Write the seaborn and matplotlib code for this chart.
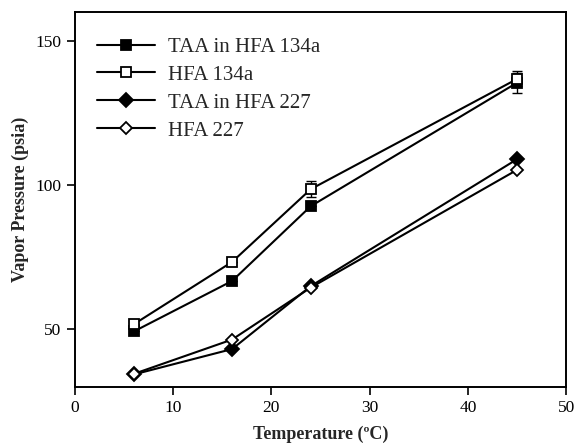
import matplotlib
matplotlib.use("Agg")
import matplotlib.pyplot as plt
import seaborn as sns
import pandas as pd

temps = [6, 16, 24, 45]
taa_134a = [49.3, 66.8, 92.7, 135.5]
hfa_134a = [51.8, 73.4, 98.6, 136.8]
taa_227 = [34.4, 43.2, 65.0, 109.0]
hfa_227 = [34.6, 46.5, 64.5, 105.3]
err_taa_134a = [0, 0, 0, 3.5]
err_hfa_134a = [0, 0, 2.8, 2.6]

labels = ["TAA in HFA 134a", "HFA 134a", "TAA in HFA 227", "HFA 227"]
series = [taa_134a, hfa_134a, taa_227, hfa_227]
errs = [err_taa_134a, err_hfa_134a, None, None]
markers = ["s", "s", "D", "D"]
fills = ["black", "white", "black", "white"]
msizes = [7.5, 7.5, 6.8, 6.3]

sns.set_style("ticks")
plt.rcParams['font.family'] = ['Liberation Serif', 'DejaVu Serif']

fig = plt.figure(figsize=(5.76, 4.45), dpi=100)
ax = fig.add_axes([0.130, 0.130, 0.853, 0.843])

rows = []
for lab, vals in zip(labels, series):
    for t, v in zip(temps, vals):
        rows.append({"Temperature": t, "Pressure": v, "Series": lab})
df = pd.DataFrame(rows)

for lab, err, m, fc, ms in zip(labels, errs, markers, fills, msizes):
    sub = df[df["Series"] == lab]
    if err is not None:
        ax.errorbar(sub["Temperature"], sub["Pressure"], yerr=err, fmt="none",
                    ecolor="black", elinewidth=1.0, capsize=3.5, capthick=1.0, zorder=1)
    sns.lineplot(data=sub, x="Temperature", y="Pressure", ax=ax, color="black",
                 linewidth=1.5, marker=m, markersize=ms, markerfacecolor=fc,
                 markeredgecolor="black", markeredgewidth=1.3, label=lab, zorder=3)

ax.set_xlim(0, 50)
ax.set_ylim(30, 160)
ax.set_xticks([0, 10, 20, 30, 40, 50])
ax.set_yticks([50, 100, 150])
ax.tick_params(direction="out", length=6, width=1.2, labelsize=12.5, colors="black")
for s in ax.spines.values():
    s.set_color("black")
    s.set_linewidth(1.4)

ax.set_xlabel("Temperature (ºC)", fontsize=13, fontweight="bold", labelpad=7)
ax.set_ylabel("Vapor Pressure (psia)", fontsize=13, fontweight="bold", labelpad=5)

leg = ax.legend(loc="upper left", frameon=False, fontsize=15, handlelength=2.8,
                labelspacing=0.4, handletextpad=0.6, borderaxespad=0.0,
                bbox_to_anchor=(0.028, 0.955))

fig.savefig("out.png", dpi=100)
